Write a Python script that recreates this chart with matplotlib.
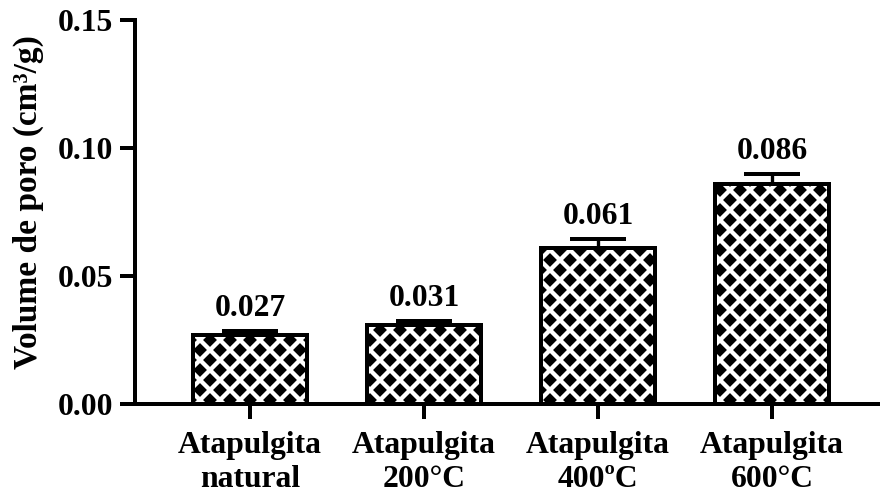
import matplotlib
matplotlib.use("Agg")
import matplotlib.pyplot as plt
import numpy as np

categorias = ["Atapulgita\nnatural", "Atapulgita\n200°C", "Atapulgita\n400ºC", "Atapulgita\n600°C"]
volume_poro = [0.027, 0.031, 0.061, 0.086]
erro = [0.0015, 0.0015, 0.0035, 0.004]
rotulos = ["0.027", "0.031", "0.061", "0.086"]
ticks_y = [0.00, 0.05, 0.10, 0.15]

plt.rcParams['font.family'] = ['Liberation Serif', 'DejaVu Serif']
plt.rcParams['font.weight'] = 'bold'
plt.rcParams['hatch.linewidth'] = 2.6

fig = plt.figure(figsize=(880 / 120, 500 / 120), dpi=120)
ax = fig.add_axes([0.1534, 0.192, 0.8466, 0.768])

x = np.arange(len(categorias))
largura = 0.655
lw = 2.4
fs = 19

# fundo preto com hachura branca -> losangos pretos
ax.bar(x, volume_poro, largura, color='black', edgecolor='white', hatch='xx', linewidth=0, zorder=2)
ax.bar(x, volume_poro, largura, fill=False, edgecolor='black', linewidth=lw, zorder=3)

# barra de erro só para cima
ax.errorbar(x, volume_poro, yerr=[np.zeros(len(erro)), erro], fmt='none', ecolor='black',
            elinewidth=2.0, capsize=17, capthick=lw, zorder=1)

for xi, v, e, r in zip(x, volume_poro, erro, rotulos):
    ax.annotate(r, (xi, v + e), xytext=(0, 9), textcoords='offset points',
                ha='center', va='baseline', fontsize=fs, fontweight='bold')

ax.set_xlim(-0.661, 3.62)
ax.set_ylim(0, 0.15)
ax.set_yticks(ticks_y)
ax.set_yticklabels([f"{t:.2f}" for t in ticks_y])
ax.set_xticks(x)
ax.set_xticklabels(categorias, linespacing=1.25)
ax.set_ylabel("Volume de poro (cm³/g)", fontsize=20, fontweight='bold')
ax.yaxis.set_label_coords(-0.122, 0.525)

for lado in ['top', 'right']:
    ax.spines[lado].set_visible(False)
for lado in ['left', 'bottom']:
    ax.spines[lado].set_linewidth(lw)
    ax.spines[lado].set_capstyle('projecting')

ax.tick_params(axis='both', width=lw, length=9, labelsize=fs)
ax.tick_params(axis='x', pad=7)
ax.tick_params(axis='y', pad=4)

fig.savefig("out.png", dpi=120)
